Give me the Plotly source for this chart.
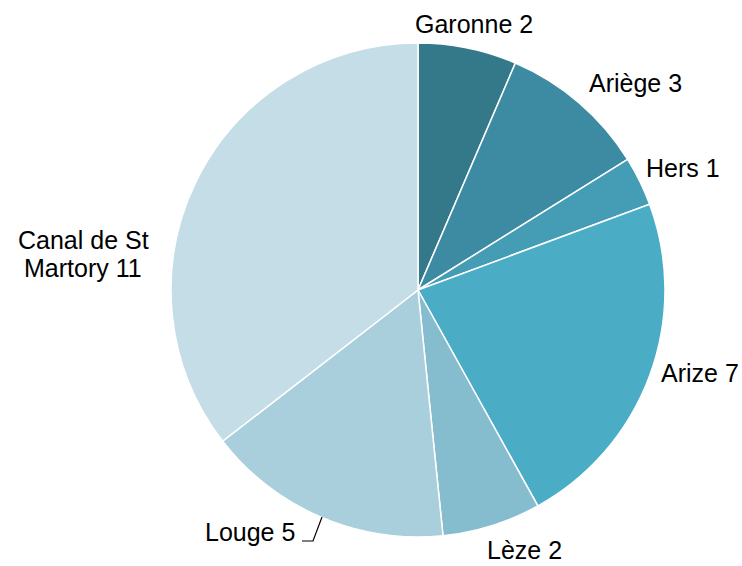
import plotly.graph_objects as go

labels = ["Garonne", "Ariège", "Hers", "Arize", "Lèze", "Louge", "Canal de St Martory"]
values = [2, 3, 1, 7, 2, 5, 11]
colors = ["#34798A", "#3D8BA3", "#459DB5", "#4BACC6", "#85BDCF", "#A9CEDC", "#C5DDE6"]

# label anchor positions in pixels (layout only); Canal label is split over two lines
label_pos = [(474, 24), (635, 83), (683, 168), (700, 373), (524, 550), (250, 532), (83, 240)]

W, H = 742, 566
cx, cy, r = 418, 290, 247
FONT = dict(family="Liberation Sans, Arial", size=25, color="black")

fig = go.Figure(go.Pie(
    labels=labels, values=values, sort=False, direction="clockwise", rotation=0,
    marker=dict(colors=colors, line=dict(color="white", width=1.5)),
    textinfo="none", hoverinfo="label+value", showlegend=False,
    domain=dict(x=[(cx - r) / W, (cx + r) / W], y=[(H - cy - r) / H, (H - cy + r) / H]),
))

for lab, val, (px, py) in zip(labels, values, label_pos):
    if lab == "Canal de St Martory":
        lines = ["Canal de St", f"Martory {val}"]
    else:
        lines = [f"{lab} {val}"]
    for i, t in enumerate(lines):
        fig.add_annotation(x=px / W, y=1 - (py + 28 * i) / H, xref="paper", yref="paper",
                           text=t, showarrow=False, xanchor="center", yanchor="middle",
                           borderpad=0, font=FONT)

# leader line for Louge
fig.add_shape(type="path", xref="paper", yref="paper",
              path=f"M {302/W} {1-541/H} L {313/W} {1-541/H} L {322/W} {1-517/H}",
              line=dict(color="black", width=1.2))

fig.update_layout(width=W, height=H, margin=dict(l=0, r=0, t=0, b=0),
                  paper_bgcolor="white", plot_bgcolor="white")
fig.write_html("out.html")
